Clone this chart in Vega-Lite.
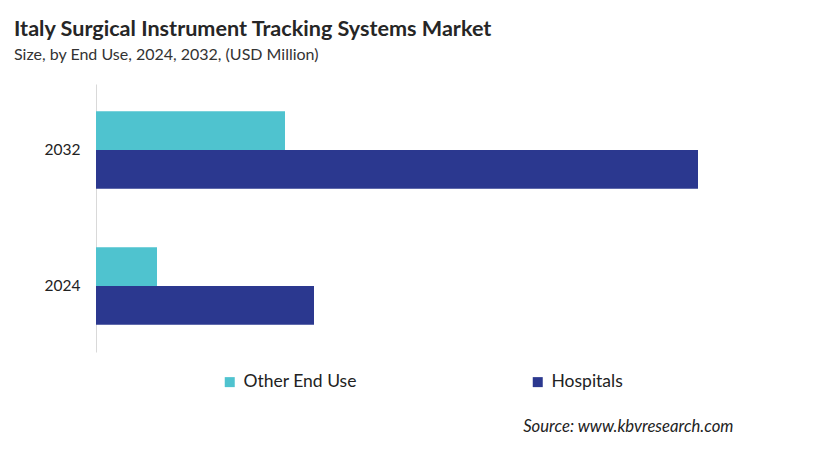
{
  "$schema": "https://vega.github.io/schema/vega-lite/v6.json",
  "width": 700,
  "height": 268,
  "autosize": {"type": "none"},
  "padding": {"left": 96, "top": 84, "right": 21, "bottom": 100},
  "background": "white",
  "title": {
    "text": "Italy Surgical Instrument Tracking Systems Market",
    "subtitle": "Size, by End Use, 2024, 2032, (USD Million)",
    "anchor": "start",
    "frame": "group",
    "dx": -82,
    "offset": 21,
    "font": "Lato",
    "fontSize": 21.6,
    "fontWeight": "bold",
    "color": "#262626",
    "subtitleFont": "Lato",
    "subtitleFontSize": 16,
    "subtitleColor": "#333333",
    "subtitlePadding": 6
  },
  "data": {
    "values": [
      {"year": "2032", "series": "Other End Use", "value": 18.9},
      {"year": "2032", "series": "Hospitals", "value": 60.2},
      {"year": "2024", "series": "Other End Use", "value": 6.1},
      {"year": "2024", "series": "Hospitals", "value": 21.8}
    ]
  },
  "mark": {"type": "bar"},
  "encoding": {
    "y": {
      "field": "year",
      "type": "nominal",
      "sort": ["2032", "2024"],
      "scale": {"paddingInner": 0.43, "paddingOuter": 0.2},
      "axis": {
        "title": null,
        "ticks": false,
        "domainColor": "#d9d9d9",
        "labelFont": "Lato",
        "labelFontSize": 15.5,
        "labelColor": "#222222",
        "labelPadding": 16
      }
    },
    "yOffset": {"field": "series", "type": "nominal", "sort": ["Other End Use", "Hospitals"], "scale": {"paddingInner": 0}},
    "x": {
      "field": "value",
      "type": "quantitative",
      "scale": {"domain": [0, 70], "nice": false},
      "axis": {
        "labels": false,
        "ticks": false,
        "grid": false,
        "domain": false,
        "title": "Source: www.kbvresearch.com",
        "titleFont": "Lato",
        "titleFontSize": 16.7,
        "titleFontStyle": "italic",
        "titleFontWeight": "normal",
        "titleColor": "#222222",
        "titleAnchor": "end",
        "titleAlign": "right",
        "titleBaseline": "alphabetic",
        "titleX": 637,
        "titleY": 79
      }
    },
    "color": {
      "field": "series",
      "type": "nominal",
      "sort": ["Other End Use", "Hospitals"],
      "scale": {"domain": ["Other End Use", "Hospitals"], "range": ["#4fc3cf", "#2b388f"]},
      "legend": {
        "title": null,
        "orient": "none",
        "legendX": 125,
        "legendY": 289,
        "direction": "horizontal",
        "columns": 2,
        "columnPadding": 172,
        "symbolType": "square",
        "symbolSize": 100,
        "symbolStrokeWidth": 0,
        "labelFont": "Lato",
        "labelFontSize": 17.5,
        "labelColor": "#222222",
        "labelOffset": 5
      }
    }
  },
  "config": {"view": {"stroke": null}}
}
